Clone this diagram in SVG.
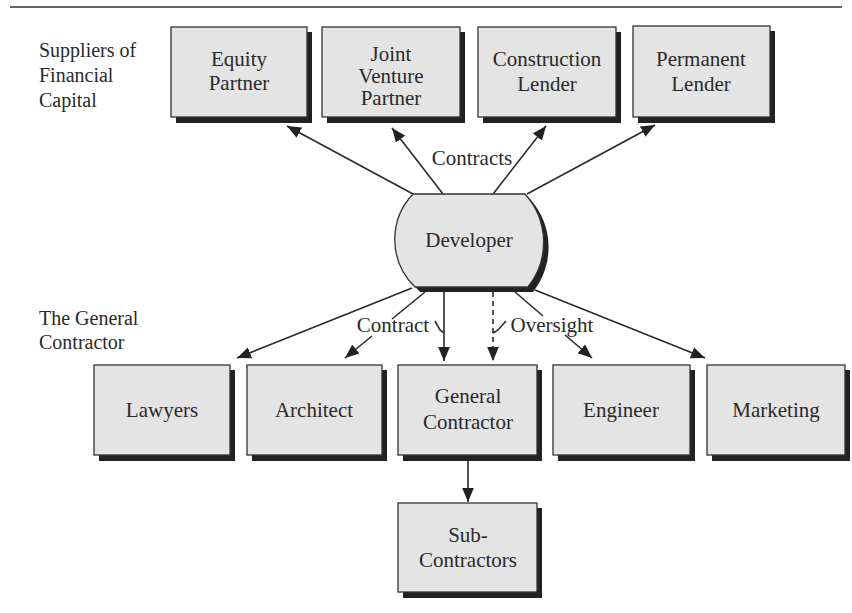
<svg xmlns="http://www.w3.org/2000/svg" width="852" height="613" viewBox="0 0 852 613">
<style>
.box{fill:#e4e4e4;stroke:#333;stroke-width:1.3}
.sh{fill:#222}
.t{font-family:"Liberation Serif","Times New Roman",serif;font-size:21px;fill:#2a2a2a;text-anchor:middle}
.side{font-family:"Liberation Serif","Times New Roman",serif;font-size:20px;fill:#2a2a2a}
.c{stroke:#2a2a2a;stroke-width:1.6;fill:none}
.a{marker-end:url(#ah)}
.d{stroke-dasharray:5 4}
</style>
<defs>
<marker id="ah" viewBox="0 0 12 10" refX="12" refY="5" markerUnits="userSpaceOnUse" markerWidth="14" markerHeight="12" orient="auto">
<path d="M0,0 L12,5 L0,10 z" fill="#222"/>
</marker>
</defs>
<rect width="852" height="613" fill="#fff"/>
<line x1="10" y1="7" x2="842" y2="7" stroke="#333" stroke-width="1.5"/>
<g id="label-suppliers">
<text class="side" x="39" y="57">Suppliers of</text>
<text class="side" x="39" y="82">Financial</text>
<text class="side" x="39" y="107">Capital</text>
</g>
<g id="label-gc">
<text class="side" x="39" y="325">The General</text>
<text class="side" x="39" y="349">Contractor</text>
</g>
<g id="connectors">
<line class="c a" x1="413" y1="194" x2="287" y2="126"/>
<line class="c a" x1="443" y1="194" x2="392" y2="128"/>
<line class="c a" x1="493" y1="194" x2="546" y2="126"/>
<line class="c a" x1="527" y1="194" x2="655" y2="125"/>
<text class="t" x="472" y="165">Contracts</text>
<line class="c a" x1="412" y1="288" x2="237" y2="358"/>
<line class="c" x1="425" y1="292" x2="392" y2="319"/>
<line class="c a" x1="372" y1="336" x2="345" y2="358"/>
<line class="c a" x1="444" y1="292" x2="444" y2="361"/>
<line class="c d a" x1="493" y1="292" x2="493" y2="361"/>
<line class="c" x1="515" y1="292" x2="543" y2="316"/>
<line class="c a" x1="565" y1="335" x2="592" y2="358"/>
<line class="c a" x1="535" y1="290" x2="705" y2="358"/>
<text class="t" x="393" y="332">Contract</text>
<text class="t" x="552" y="332">Oversight</text>
<path class="c" d="M435,321 L440,330 L444,333" stroke-width="1.2"/>
<path class="c" d="M506,321 L498,330 L493,333" stroke-width="1.2"/>
<line class="c a" x1="468" y1="461" x2="468" y2="502"/>
</g>
<g id="equity-partner">
<rect class="sh" x="176" y="32" width="136" height="91"/>
<rect class="box" x="171" y="27" width="136" height="90"/>
<text class="t" x="239" y="66">Equity</text>
<text class="t" x="239" y="90">Partner</text>
</g>
<g id="joint-venture-partner">
<rect class="sh" x="327" y="32" width="138" height="91"/>
<rect class="box" x="322" y="27" width="138" height="90"/>
<text class="t" x="391" y="61">Joint</text>
<text class="t" x="391" y="83">Venture</text>
<text class="t" x="391" y="105">Partner</text>
</g>
<g id="construction-lender">
<rect class="sh" x="483" y="32" width="138" height="91"/>
<rect class="box" x="478" y="27" width="138" height="90"/>
<text class="t" x="547" y="66">Construction</text>
<text class="t" x="547" y="91">Lender</text>
</g>
<g id="permanent-lender">
<rect class="sh" x="638" y="31" width="137" height="92"/>
<rect class="box" x="633" y="26" width="137" height="91"/>
<text class="t" x="701" y="66">Permanent</text>
<text class="t" x="701" y="91">Lender</text>
</g>
<g id="developer">
<path class="sh" d="M418,199 L530,199 A72,72 0 0 1 533,292 L420,292 A66,66 0 0 1 418,199 z"/>
<path class="box" d="M413,194 L525,194 A72,72 0 0 1 528,287 L415,287 A66,66 0 0 1 413,194 z"/>
<text class="t" x="469" y="247">Developer</text>
</g>
<g id="lawyers">
<rect class="sh" x="99" y="370" width="136" height="91"/>
<rect class="box" x="94" y="365" width="136" height="90"/>
<text class="t" x="162" y="417">Lawyers</text>
</g>
<g id="architect">
<rect class="sh" x="252" y="370" width="135" height="91"/>
<rect class="box" x="247" y="365" width="135" height="90"/>
<text class="t" x="314" y="417">Architect</text>
</g>
<g id="general-contractor">
<rect class="sh" x="403" y="370" width="139" height="91"/>
<rect class="box" x="398" y="365" width="139" height="90"/>
<text class="t" x="468" y="403">General</text>
<text class="t" x="468" y="429">Contractor</text>
</g>
<g id="engineer">
<rect class="sh" x="558" y="370" width="137" height="91"/>
<rect class="box" x="553" y="365" width="137" height="90"/>
<text class="t" x="621" y="417">Engineer</text>
</g>
<g id="marketing">
<rect class="sh" x="712" y="370" width="138" height="91"/>
<rect class="box" x="707" y="365" width="138" height="90"/>
<text class="t" x="776" y="417">Marketing</text>
</g>
<g id="sub-contractors">
<rect class="sh" x="403" y="508" width="139" height="90"/>
<rect class="box" x="398" y="503" width="139" height="89"/>
<text class="t" x="468" y="542">Sub-</text>
<text class="t" x="468" y="567">Contractors</text>
</g>
</svg>
